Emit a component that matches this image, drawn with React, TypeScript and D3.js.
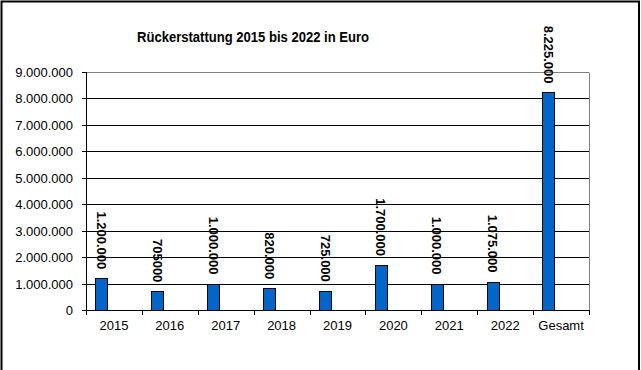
import React, { useRef, useEffect } from "react";
import * as d3 from "d3";

// Data
const categories = ["2015", "2016", "2017", "2018", "2019", "2020", "2021", "2022", "Gesamt"];
const values = [1200000, 705000, 1000000, 820000, 725000, 1700000, 1000000, 1075000, 8225000];
const valueLabels = ["1.200.000", "705000", "1.000.000", "820.000", "725.000", "1.700.000", "1.000.000", "1.075.000", "8.225.000"];
const yTicks = [0, 1000000, 2000000, 3000000, 4000000, 5000000, 6000000, 7000000, 8000000, 9000000];
// excel clustered layout: one filled series out of three slots
const seriesSlots = ["a", "b", "c"];

const title = "Rückerstattung 2015 bis 2022 in Euro";

const width = 641;
const height = 370;
const plot = { left: 86, right: 589, top: 72, bottom: 310 };
const font = "'Liberation Sans', Arial, sans-serif";

const deFormat = d3.formatLocale({ decimal: ",", thousands: ".", grouping: [3], currency: ["", " €"] }).format(",d");

const App = () => {
  const svgRef = useRef(null);

  useEffect(() => {
    const svg = d3.select(svgRef.current);
    svg.selectAll("*").remove();

    // Scales
    const x = d3.scaleBand().domain(categories).range([plot.left, plot.right]).padding(0);
    const xInner = d3.scaleBand().domain(seriesSlots).range([0, x.bandwidth()]).paddingInner(0).paddingOuter(0.75);
    const y = d3.scaleLinear().domain([0, 9000000]).range([plot.bottom, plot.top]);

    // Outer frame (bottom edge is off the picture)
    svg.append("path")
      .attr("d", `M1.5,${height + 5} V1.5 H639 V${height + 5}`)
      .attr("fill", "none")
      .attr("stroke", "black")
      .attr("stroke-width", 2);

    // Title
    svg.append("text")
      .attr("x", 253)
      .attr("y", 42)
      .attr("text-anchor", "middle")
      .attr("font-family", font)
      .attr("font-weight", "bold")
      .attr("font-size", 15)
      .attr("textLength", 232)
      .attr("lengthAdjust", "spacingAndGlyphs")
      .text(title);

    // Grid lines
    svg.append("g")
      .selectAll("line")
      .data(yTicks.filter(t => t > 0))
      .join("line")
      .attr("x1", plot.left)
      .attr("x2", plot.right)
      .attr("y1", d => Math.round(y(d)) + 0.5)
      .attr("y2", d => Math.round(y(d)) + 0.5)
      .attr("stroke", d => (d === 9000000 ? "#808080" : "black"))
      .attr("stroke-width", 1);

    // Right plot border
    svg.append("line")
      .attr("x1", plot.right + 0.5)
      .attr("x2", plot.right + 0.5)
      .attr("y1", plot.top + 0.5)
      .attr("y2", plot.bottom)
      .attr("stroke", "#808080");

    // Bars
    svg.append("g")
      .selectAll("rect")
      .data(values)
      .join("rect")
      .attr("x", (d, i) => Math.round(x(categories[i]) + xInner("a")) + 0.5)
      .attr("y", d => Math.round(y(d)) + 0.5)
      .attr("width", Math.round(xInner.bandwidth()))
      .attr("height", d => Math.round(y(0)) - Math.round(y(d)))
      .attr("fill", "#0066CC")
      .attr("stroke", "black")
      .attr("stroke-width", 1);

    // Value labels, rotated
    svg.append("g")
      .selectAll("text")
      .data(values)
      .join("text")
      .attr("transform", (d, i) => {
        const cx = x(categories[i]) + xInner("a") + xInner.bandwidth() / 2;
        return `translate(${cx}, ${y(d) - 9}) rotate(90)`;
      })
      .attr("text-anchor", "end")
      .attr("dy", "0.35em")
      .attr("font-family", font)
      .attr("font-weight", "bold")
      .attr("font-size", 13)
      .text((d, i) => valueLabels[i]);

    // Y axis
    const yAxis = svg.append("g");
    yAxis.append("line")
      .attr("x1", plot.left + 0.5)
      .attr("x2", plot.left + 0.5)
      .attr("y1", plot.top)
      .attr("y2", plot.bottom + 1)
      .attr("stroke", "black");
    const yTick = yAxis.selectAll("g.tick")
      .data(yTicks)
      .join("g")
      .attr("class", "tick")
      .attr("transform", d => `translate(0, ${Math.round(y(d)) + 0.5})`);
    yTick.append("line")
      .attr("x1", plot.left - 4)
      .attr("x2", plot.left)
      .attr("stroke", "black");
    yTick.append("text")
      .attr("x", plot.left - 13)
      .attr("dy", "0.35em")
      .attr("text-anchor", "end")
      .attr("font-family", font)
      .attr("font-size", 13)
      .text(d => deFormat(d));

    // X axis
    const xAxis = svg.append("g");
    xAxis.append("line")
      .attr("x1", plot.left)
      .attr("x2", plot.right + 1)
      .attr("y1", plot.bottom + 0.5)
      .attr("y2", plot.bottom + 0.5)
      .attr("stroke", "black");
    xAxis.selectAll("line.tick")
      .data([...categories.map(c => x(c)), plot.right])
      .join("line")
      .attr("class", "tick")
      .attr("x1", d => Math.round(d) + 0.5)
      .attr("x2", d => Math.round(d) + 0.5)
      .attr("y1", plot.bottom)
      .attr("y2", plot.bottom + 5)
      .attr("stroke", "black");
    xAxis.selectAll("text")
      .data(categories)
      .join("text")
      .attr("x", d => x(d) + x.bandwidth() / 2)
      .attr("y", 330)
      .attr("text-anchor", "middle")
      .attr("font-family", font)
      .attr("font-size", 13)
      .text(d => d);
  }, []);

  return (
    <svg
      ref={svgRef}
      width={width}
      height={height}
      style={{ position: "absolute", left: 0, top: 0, background: "white", display: "block" }}
    />
  );
};

export default App;
